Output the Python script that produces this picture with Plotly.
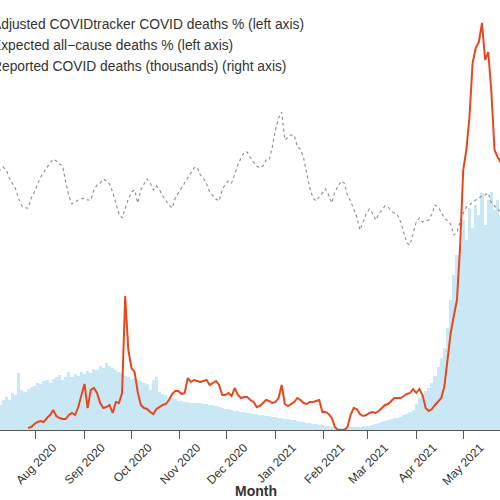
import pandas as pd
import plotly.graph_objects as go

# 2-day grid starting 2020-07-05
start_date = "2020-07-05"

# Reported COVID deaths (thousands), right axis
reported_k = [
    0.50, 0.46, 0.50, 0.60, 0.66, 0.60, 0.74, 0.70, 1.14, 0.80,
    0.76, 0.82, 0.86, 0.88, 0.94, 0.92, 0.98, 1.00, 0.94, 1.02,
    1.06, 1.10, 1.00, 1.06, 1.16, 1.06, 1.12, 1.08, 1.16, 1.12,
    1.18, 1.14, 1.22, 1.20, 1.28, 1.24, 1.34, 1.28, 1.24, 1.20,
    1.16, 1.12, 1.08, 1.06, 1.02, 1.04, 1.00, 0.98, 0.94, 0.92,
    0.80, 1.00, 1.06, 0.76, 0.72, 0.70, 0.66, 0.64, 0.62, 0.58,
    0.58, 0.56, 0.56, 0.54, 0.54, 0.54, 0.54, 0.52, 0.52, 0.50,
    0.50, 0.48, 0.46, 0.44, 0.42, 0.42, 0.40, 0.38, 0.38, 0.36,
    0.36, 0.34, 0.34, 0.32, 0.32, 0.30, 0.30, 0.28, 0.28, 0.26,
    0.26, 0.24, 0.24, 0.22, 0.22, 0.20, 0.20, 0.18, 0.16, 0.16,
    0.14, 0.14, 0.12, 0.12, 0.10, 0.10, 0.08, 0.08, 0.06, 0.06,
    0.04, 0.04, 0.04, 0.04, 0.06, 0.06, 0.06, 0.06, 0.08, 0.08,
    0.08, 0.10, 0.12, 0.14, 0.16, 0.18, 0.20, 0.22, 0.24, 0.24,
    0.26, 0.30, 0.32, 0.36, 0.40, 0.52, 0.64, 0.68, 0.78, 0.84,
    0.94, 1.08, 1.26, 1.44, 1.64, 2.04, 2.60, 3.10, 3.50, 3.70,
    4.20, 3.80, 4.44, 4.04, 4.50, 4.30, 4.74, 4.10, 4.60, 4.76,
    4.40, 4.60, 4.30, 4.50,
]

# Adjusted COVIDtracker COVID deaths %, left axis
adjusted_pct = [
    None, None, None, None, None, None, None, None, None, None,
    None, 0.2, 0.3, 0.6, 0.8, 0.9, 0.8, 1.2, 1.5, 2.0,
    1.4, 1.2, 1.1, 1.1, 1.5, 1.7, 1.5, 2.3, 3.6, 4.6,
    2.2, 4.0, 4.2, 3.7, 2.7, 2.2, 2.3, 2.5, 1.7, 2.8,
    2.7, 3.7, 13.4, 8.0, 6.2, 5.8, 3.8, 2.5, 2.2, 2.1,
    1.8, 1.6, 2.1, 2.3, 2.5, 2.6, 3.0, 3.6, 3.9, 3.9,
    3.6, 3.7, 5.2, 4.8, 5.0, 4.9, 4.8, 4.9, 5.0, 4.5,
    4.7, 4.9, 4.5, 3.5, 3.5, 3.7, 3.4, 4.2, 3.5, 3.2,
    3.3, 3.3, 3.0, 2.8, 2.3, 2.4, 2.7, 3.0, 2.9, 2.7,
    2.8, 3.2, 4.5, 2.6, 2.4, 2.6, 2.8, 3.2, 3.0, 2.7,
    2.6, 2.8, 2.8, 2.9, 3.0, 1.8, 1.8, 1.6, 1.2, 0.3,
    0.0, 0.0, 0.0, 0.3, 1.5, 2.2, 2.1, 1.6, 1.4, 1.5,
    1.7, 1.8, 1.7, 1.9, 2.2, 2.5, 2.6, 2.9, 3.2, 3.2,
    3.2, 3.4, 3.6, 3.7, 4.1, 3.7, 4.1, 3.5, 2.2, 1.9,
    2.1, 2.5, 2.8, 3.2, 4.4, 7.0, 9.7, 11.4, 13.0, 18.3,
    26.0, 28.0, 31.3, 36.7, 38.2, 38.8, 40.7, 37.0, 37.8, 33.8,
    28.0, 27.3, 26.7, 26.2,
]

# Expected all-cause deaths %, left axis
expected_pct = [
    26.5, 26.2, 26.0, 26.3, 26.0, 25.2, 24.6, 24.1, 23.1, 22.4,
    22.2, 22.2, 23.2, 23.8, 24.6, 25.3, 25.8, 26.3, 26.7, 27.1,
    26.9, 26.6, 26.4, 24.8, 23.4, 22.6, 22.8, 23.0, 23.1, 23.2,
    23.0, 23.0, 24.0, 24.5, 24.7, 25.1, 24.9, 24.6, 23.8, 22.6,
    21.6, 21.2, 22.2, 23.1, 23.8, 24.0, 22.7, 24.0, 24.6, 25.1,
    24.7, 24.0, 24.4, 24.0, 23.4, 22.9, 22.5, 22.2, 23.2, 23.7,
    24.2, 24.8, 25.3, 25.8, 26.2, 26.3, 25.5, 25.2, 24.6, 23.8,
    23.4, 23.1, 22.9, 24.0, 24.6, 24.9, 24.7, 25.7, 26.5, 27.2,
    27.8, 27.8, 27.2, 26.8, 26.4, 26.2, 26.4, 27.0, 27.0, 28.3,
    30.0, 31.2, 31.8, 29.0, 29.3, 29.5, 29.5, 28.3, 28.1, 27.2,
    25.7, 24.2, 23.2, 22.9, 23.3, 23.7, 24.1, 23.5, 22.7, 23.8,
    24.4, 24.9, 24.7, 23.5, 22.9, 22.0, 21.3, 20.0, 20.8, 21.6,
    22.1, 21.7, 21.0, 21.6, 22.0, 22.4, 22.3, 21.9, 21.7, 21.5,
    20.8, 19.8, 18.7, 18.5, 19.7, 20.8, 21.2, 20.8, 20.9, 21.0,
    21.6, 22.5, 22.3, 21.8, 21.2, 20.9, 20.6, 19.5, 19.8, 20.8,
    21.7, 22.3, 22.5, 22.8, 23.0, 23.2, 23.4, 23.5, 23.7, 22.7,
    22.4, 22.0, 21.8, 21.8,
]

legend_labels = [
    "Adjusted COVIDtracker COVID deaths % (left axis)",
    "Expected all\u2212cause deaths % (left axis)",
    "Reported COVID deaths (thousands) (right axis)",
]

n = min(len(reported_k), len(adjusted_pct), len(expected_pct))
dates = pd.date_range(start_date, periods=n, freq="2D")

fig = go.Figure()
fig.add_trace(go.Bar(
    x=dates, y=reported_k[:n], yaxis="y",
    width=2 * 86400000, marker=dict(color="#c9e7f4", line=dict(width=0)),
    name=legend_labels[2], showlegend=False,
))
fig.add_trace(go.Scatter(
    x=dates, y=expected_pct[:n], yaxis="y2", mode="lines",
    line=dict(color="#8a8a8a", width=1.1, dash="dot"),
    name=legend_labels[1], showlegend=False,
))
fig.add_trace(go.Scatter(
    x=dates, y=adjusted_pct[:n], yaxis="y2", mode="lines",
    line=dict(color="#e8471c", width=2),
    name=legend_labels[0], showlegend=False, connectgaps=False,
))

font_fam = "Liberation Sans, Arial, Helvetica, sans-serif"
annotations = []
for i, lab in enumerate(legend_labels):
    annotations.append(dict(
        text=lab, xref="paper", yref="paper", x=-10 / 500, y=1 - (24 + 21 * i - 15) / 415,
        xanchor="left", yanchor="middle", showarrow=False,
        font=dict(size=13.8, color="#333333", family=font_fam),
    ))
annotations.append(dict(
    text="<b>Month</b>", xref="paper", yref="paper", x=256 / 500, y=-(491 - 430) / 415,
    xanchor="center", yanchor="middle", showarrow=False,
    font=dict(size=14, color="#333333", family=font_fam),
))

fig.update_layout(
    width=500, height=500,
    margin=dict(l=0, r=0, t=15, b=70, autoexpand=False),
    paper_bgcolor="white", plot_bgcolor="white",
    bargap=0,
    font=dict(family=font_fam, color="#333333"),
    xaxis=dict(
        range=["2020-07-09", "2021-05-24 12:00"], automargin=False,
        dtick="M1", tick0="2020-07-01", tickformat="%b %Y", tickangle=-45,
        ticks="outside", ticklen=8, tickcolor="#555555",
        ticklabelshift=17, ticklabelstandoff=-3,
        showline=True, linecolor="#555555", linewidth=1,
        showgrid=False, zeroline=False,
        tickfont=dict(size=12, color="#333333", family=font_fam),
    ),
    yaxis=dict(range=[0, 8.3], side="right", showgrid=False, zeroline=False,
               showticklabels=False, showline=False, automargin=False),
    yaxis2=dict(range=[0, 41.5], side="left", overlaying="y", showgrid=False,
                zeroline=False, showticklabels=False, showline=False, automargin=False),
    annotations=annotations,
)

fig.write_html(
    "out.html",
    config={"displayModeBar": False},
    post_script="document.body.style.margin='0';document.body.style.overflow='hidden';",
)
